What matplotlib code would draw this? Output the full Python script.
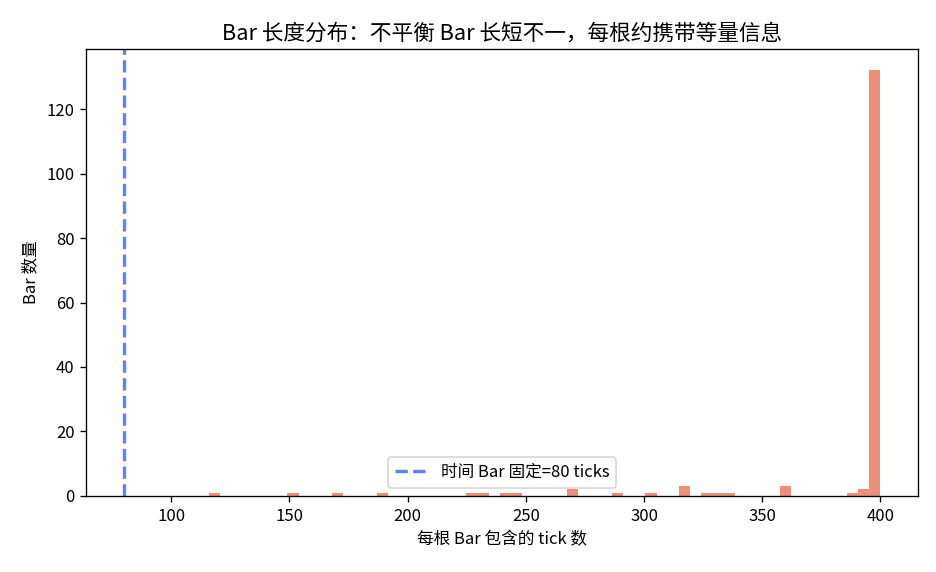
import matplotlib
matplotlib.use('Agg')
import matplotlib.pyplot as plt

plt.rcParams['font.family'] = ['Noto Sans CJK SC', 'DejaVu Sans']

# ticks per bar
bar_lengths = [116, 151, 170, 189, 227, 232, 241, 246, 269, 270, 288, 303,
               316, 317, 318, 326, 331, 336, 359, 360, 361, 388, 392, 394]
full_length = 400
full_count = 132
time_bar_ticks = 80
n_bins = 60

data = bar_lengths + [full_length] * full_count

fig, ax = plt.subplots(figsize=(7.8, 572 / 120), dpi=120)
ax.hist(data, bins=n_bins, color='#ef8e76')
ax.axvline(time_bar_ticks, color='#5685ff', linestyle='--', linewidth=2,
           label='时间 Bar 固定=%d ticks' % time_bar_ticks)
ax.set_title('Bar 长度分布：不平衡 Bar 长短不一，每根约携带等量信息', fontsize=13)
ax.set_xlabel('每根 Bar 包含的 tick 数')
ax.set_ylabel('Bar 数量')
ax.legend(loc='lower center')
fig.subplots_adjust(left=0.092, right=0.981, top=0.914, bottom=0.133)
fig.savefig('out.png')
